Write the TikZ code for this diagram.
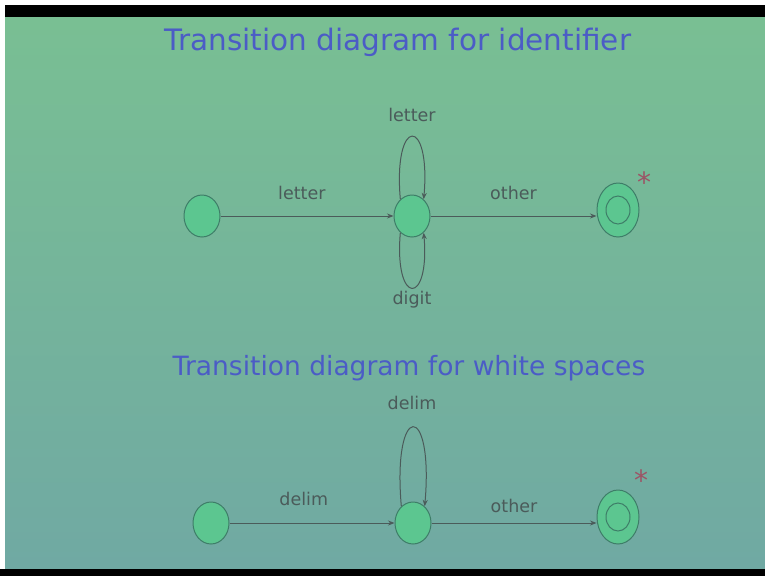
\documentclass[tikz,border=0pt]{standalone}
\usepackage{fontspec}
\setmainfont{DejaVu Sans}
\usetikzlibrary{arrows.meta,shapes.geometric}
\definecolor{slideTop}{HTML}{79BF93}
\definecolor{slideBot}{HTML}{70A9A3}
\definecolor{stateFill}{HTML}{5CC690}
\definecolor{stateEdge}{HTML}{3E7D68}
\definecolor{titleBlue}{HTML}{4B5CC6}
\definecolor{labelInk}{HTML}{4B5B5A}
\definecolor{starRed}{HTML}{9C5466}
\tikzset{
  every picture/.style={font=\fontsize{17.5}{20}\selectfont, text=labelInk},
  state/.style={ellipse, draw=stateEdge, line width=1pt, fill=stateFill,
    minimum width=36pt, minimum height=42pt, inner sep=0pt},
  accept/.style={state, minimum width=42pt, minimum height=54pt},
  accept inner/.style={state, minimum width=24pt, minimum height=28pt},
  trans/.style={-{Stealth[length=6.5pt,width=5pt]}, draw=labelInk, line width=1pt},
  slide title/.style={text=titleBlue},
  star note/.style={text=starRed, font=\fontsize{28}{28}\selectfont}
}

\begin{document}
\begin{tikzpicture}[x=1pt,y=-1pt]
  \useasboundingbox (0,0) rectangle (765,576);
  % slide photo: background and black bars
  \fill[white] (0,0) rectangle (765,576);
  \shade[top color=slideTop, bottom color=slideBot] (5,17) rectangle (765,569);
  \fill[black] (5,5) rectangle (765,17);
  \fill[black] (0,569) rectangle (765,576);

  % identifier
  \node[slide title, font=\fontsize{29.5}{34}\selectfont] (title1) at (398,42) {Transition diagram for identifier};
  \node[state] (s0) at (202,216) {};
  \node[state] (s1) at (412,216) {};
  \node[accept] (s2) at (618,210) {};
  \node[accept inner] (s2in) at (s2) {};
  \node[star note] (s2star) at (644,182) {*};
  \draw[trans] (s0) -- (s1) node[pos=0.47, above=12pt] (lblLetter) {letter};
  \draw[trans] (s1) -- (s1 -| s2.west) node[midway, above=12pt] (lblOther) {other};
  \draw[trans] (s1.125) .. controls +(265:84) and +(275:84) .. (s1.55);
  \draw[trans] (s1.235) .. controls +(95:74) and +(85:74) .. (s1.305);
  \node (lblLoopUp) at (412,115) {letter};
  \node (lblLoopDown) at (412,300) {digit};

  % white spaces
  \node[slide title, font=\fontsize{26.5}{32}\selectfont] (title2) at (409,368) {Transition diagram for white spaces};
  \node[state] (t0) at (211,523) {};
  \node[state] (t1) at (413,523) {};
  \node[accept] (t2) at (618,517) {};
  \node[accept inner] (t2in) at (t2) {};
  \node[star note] (t2star) at (641,480) {*};
  \draw[trans] (t0) -- (t1) node[pos=0.45, above=13pt] (lblDelim) {delim};
  \draw[trans] (t1) -- (t1 -| t2.west) node[midway, above=6pt] (lblOther2) {other};
  \draw[trans] (t1.125) .. controls +(265:106) and +(275:106) .. (t1.55);
  \node (lblLoopDelim) at (412,403) {delim};
\end{tikzpicture}
\end{document}
